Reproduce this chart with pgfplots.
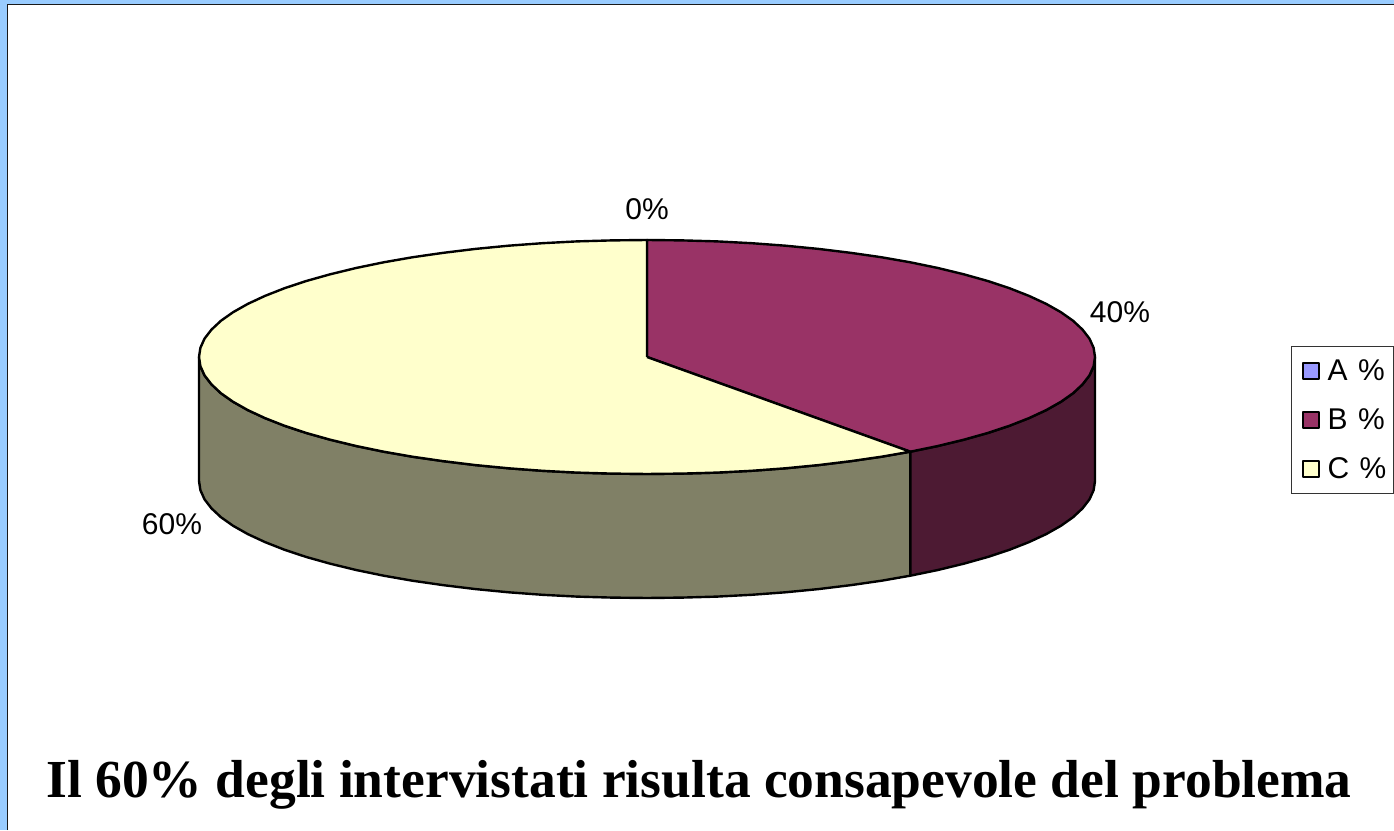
\documentclass[border=0pt]{standalone}
\usepackage{pgfplots}
\pgfplotsset{compat=1.18}
\usepackage{fontspec}
\setmainfont{Liberation Sans}
\newfontfamily\titlefont{Liberation Serif}[BoldFont={Liberation Serif Bold}]
\definecolor{bgblue}{HTML}{99CCFF}
\definecolor{sliceA}{HTML}{9999FF}
\definecolor{sliceB}{HTML}{993366}
\definecolor{sliceC}{HTML}{FFFFCC}
\definecolor{sideB}{HTML}{4D1A33}
\definecolor{sideC}{HTML}{808066}
\begin{document}
\begin{tikzpicture}
\useasboundingbox (0,0) rectangle (1394pt,830pt);
\fill[bgblue] (0,0) rectangle (1394pt,830pt);
\fill[white] (8pt,0) rectangle (1394pt,825pt);
\draw[black!90,line width=1.6pt] (7.5pt,0) -- (7.5pt,825.5pt) -- (1394pt,825.5pt);
\begin{axis}[
  scale only axis, width=1394pt, height=830pt,
  xmin=0, xmax=1394, ymin=0, ymax=830,
  hide axis, clip=false,
  legend image code/.code={\draw[#1,draw=black,line width=1.8pt] (0pt,-8pt) rectangle (16pt,8pt);\path (-5pt,0) (21.5pt,0);},
  legend style={at={(axis cs:1394,484)},anchor=north east,draw=black!80,line width=1.2pt,
    font=\fontsize{30}{36}\selectfont,inner xsep=5pt,inner ysep=11.5pt,
    row sep=22.5pt,cells={anchor=west,yshift=-2pt}},
  every axis plot/.append style={line width=2.4pt,line join=round},
]
% side of C
\addplot[forget plot,fill=sideC,draw=black] coordinates {
(910.3,378.3)(881.1,373.2)(850.4,368.8)(818.4,364.9)(785.4,361.7)(751.6,359.2)(717.1,357.4)(682.2,356.4)(647,356)(611.8,356.4)(576.9,357.4)(542.4,359.2)(508.6,361.7)(475.6,364.9)(443.6,368.8)(412.9,373.2)(383.7,378.3)(356.1,384)(330.2,390.3)(306.3,397)(284.6,404.2)(265,411.9)(247.8,419.9)(233.1,428.2)(220.9,436.8)(211.4,445.7)(204.5,454.7)(200.4,463.8)(199,473)
(199,349)(200.4,339.8)(204.5,330.7)(211.4,321.7)(220.9,312.8)(233.1,304.2)(247.8,295.9)(265,287.9)(284.6,280.2)(306.3,273)(330.2,266.3)(356.1,260)(383.7,254.3)(412.9,249.2)(443.6,244.8)(475.6,240.9)(508.6,237.7)(542.4,235.2)(576.9,233.4)(611.8,232.4)(647,232)(682.2,232.4)(717.1,233.4)(751.6,235.2)(785.4,237.7)(818.4,240.9)(850.4,244.8)(881.1,249.2)(910.3,254.3)(910.3,378.3)};
% side of B
\addplot[forget plot,fill=sideB,draw=black] coordinates {
(1095,473)(1093.6,463.8)(1089.5,454.7)(1082.6,445.7)(1073.1,436.8)(1060.9,428.2)(1046.2,419.9)(1029,411.9)(1009.4,404.2)(987.7,397)(963.8,390.3)(937.9,384)(910.3,378.3)
(910.3,254.3)(937.9,260)(963.8,266.3)(987.7,273)(1009.4,280.2)(1029,287.9)(1046.2,295.9)(1060.9,304.2)(1073.1,312.8)(1082.6,321.7)(1089.5,330.7)(1093.6,339.8)(1095,349)(1095,473)};
% top faces
\addplot[fill=sliceA,draw=black] coordinates {(647,473)(647,590)};
\addlegendentry{A \hspace{2pt}\%}
\addplot[fill=sliceB,draw=black] coordinates {
(647,473)(647,590)(682.2,589.6)(717.1,588.6)(751.6,586.8)(785.4,584.3)(818.4,581.1)(850.4,577.2)(881.1,572.8)(910.3,567.7)(937.9,562)(963.8,555.7)(987.7,549)(1009.4,541.8)(1029,534.1)(1046.2,526.1)(1060.9,517.8)(1073.1,509.2)(1082.6,500.3)(1089.5,491.3)(1093.6,482.2)(1095,473)(1093.6,463.8)(1089.5,454.7)(1082.6,445.7)(1073.1,436.8)(1060.9,428.2)(1046.2,419.9)(1029,411.9)(1009.4,404.2)(987.7,397)(963.8,390.3)(937.9,384)(910.3,378.3)(647,473)};
\addlegendentry{B \hspace{2pt}\%}
\addplot[fill=sliceC,draw=black] coordinates {
(647,473)(910.3,378.3)(881.1,373.2)(850.4,368.8)(818.4,364.9)(785.4,361.7)(751.6,359.2)(717.1,357.4)(682.2,356.4)(647,356)(611.8,356.4)(576.9,357.4)(542.4,359.2)(508.6,361.7)(475.6,364.9)(443.6,368.8)(412.9,373.2)(383.7,378.3)(356.1,384)(330.2,390.3)(306.3,397)(284.6,404.2)(265,411.9)(247.8,419.9)(233.1,428.2)(220.9,436.8)(211.4,445.7)(204.5,454.7)(200.4,463.8)(199,473)(200.4,482.2)(204.5,491.3)(211.4,500.3)(220.9,509.2)(233.1,517.8)(247.8,526.1)(265,534.1)(284.6,541.8)(306.3,549)(330.2,555.7)(356.1,562)(383.7,567.7)(412.9,572.8)(443.6,577.2)(475.6,581.1)(508.6,584.3)(542.4,586.8)(576.9,588.6)(611.8,589.6)(647,590)(647,473)};
\addlegendentry{C \hspace{2pt}\%}
\node[font=\fontsize{30}{36}\selectfont] at (axis cs:647,621) {0\%};
\node[font=\fontsize{30}{36}\selectfont] at (axis cs:1120,518) {40\%};
\node[font=\fontsize{30}{36}\selectfont] at (axis cs:172,306) {60\%};
\node[font=\titlefont\bfseries\fontsize{53.5}{62}\selectfont] at (axis cs:699,45) {Il 60\% degli intervistati risulta consapevole del problema};
\end{axis}
\end{tikzpicture}
\end{document}
